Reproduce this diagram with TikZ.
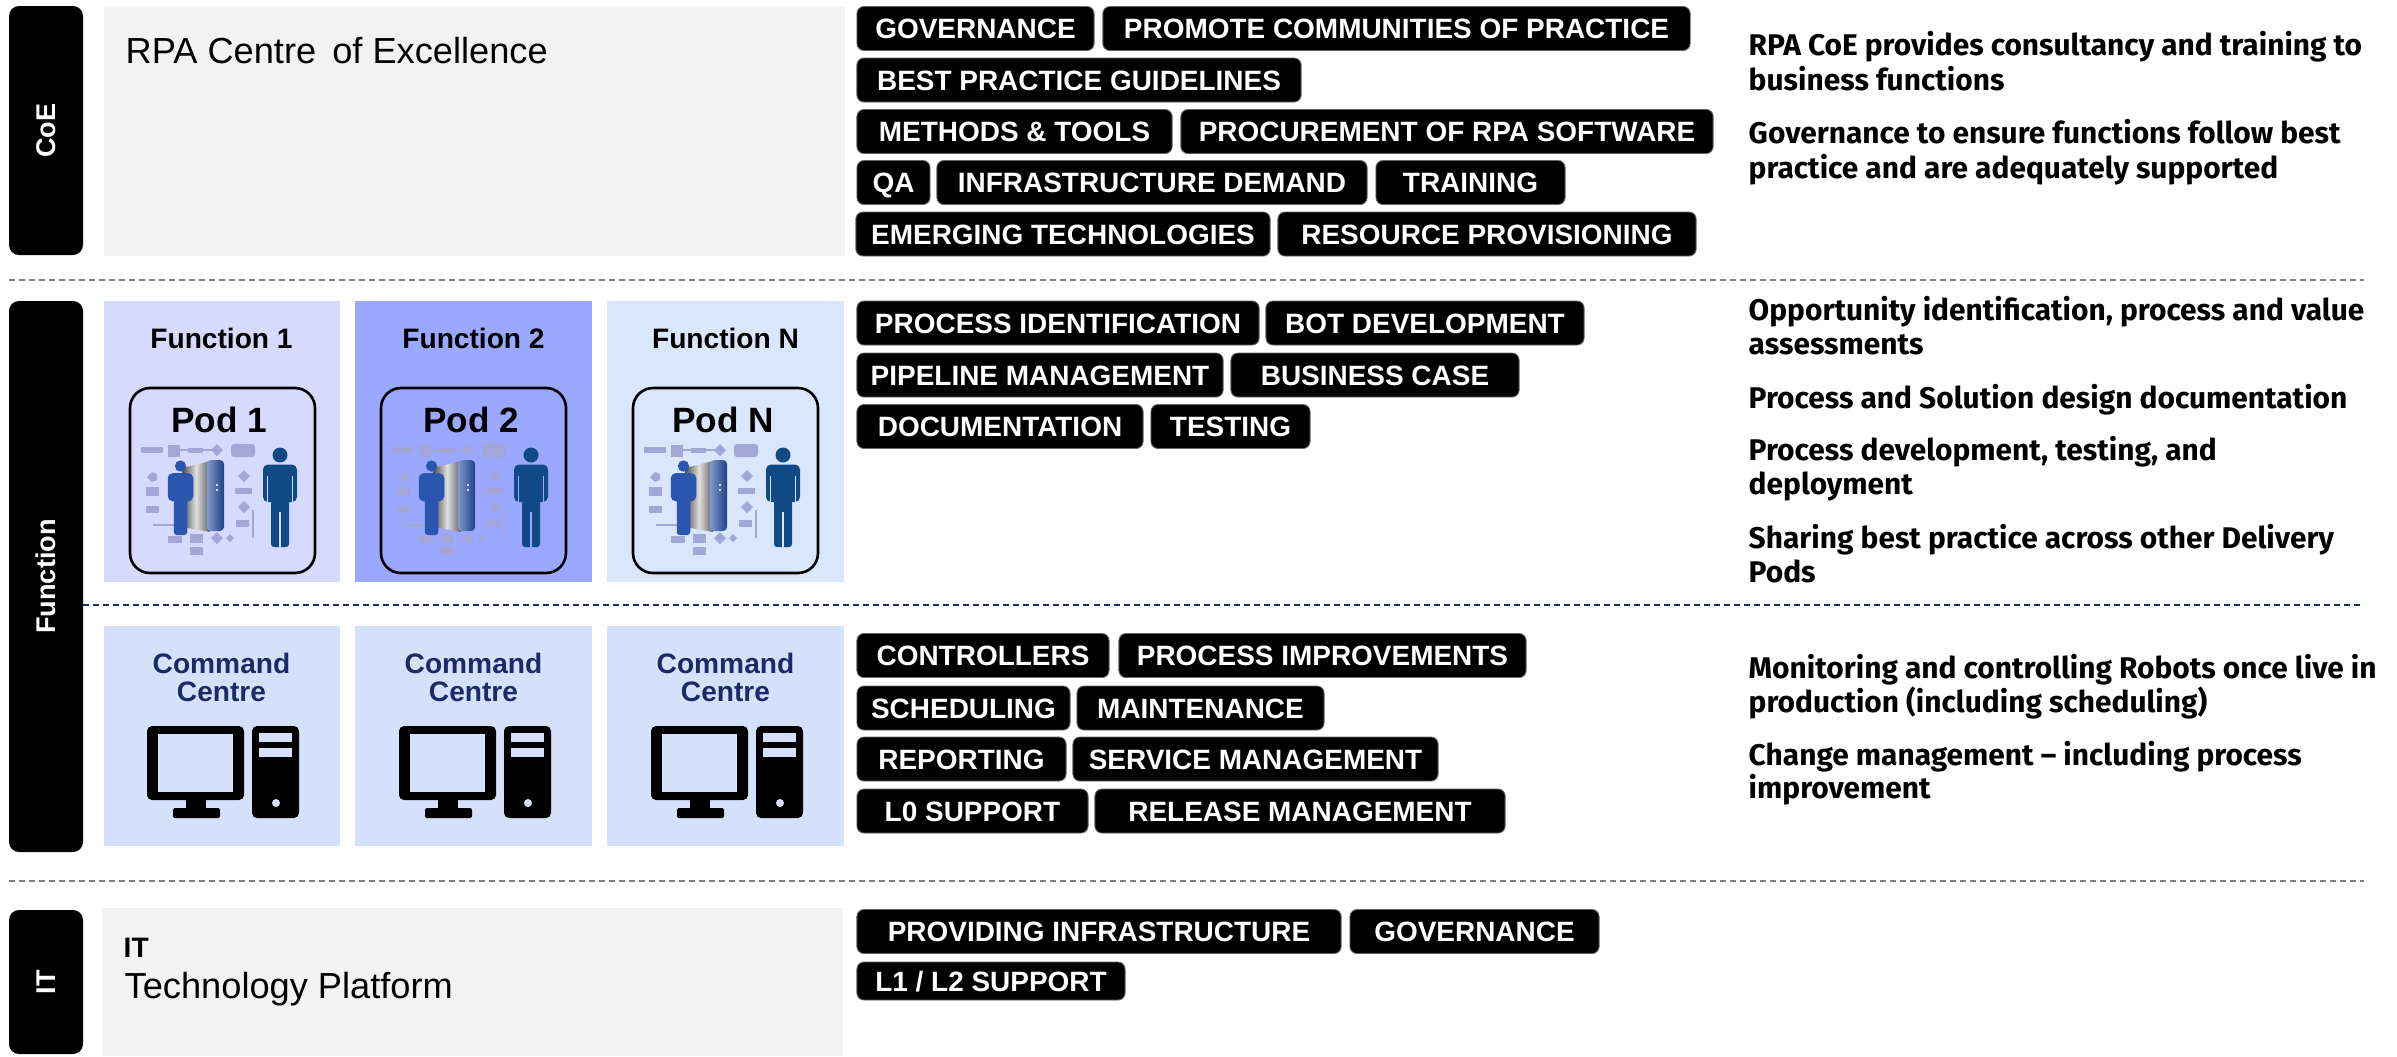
\documentclass[tikz,border=0pt]{standalone}
\usepackage{fontspec}
\setmainfont{Liberation Sans}
\newfontfamily\descfont{Fira Sans}
\definecolor{panelgrey}{HTML}{F2F2F2}
\definecolor{funA}{HTML}{D6DAFF}
\definecolor{funB}{HTML}{9AA8FF}
\definecolor{funC}{HTML}{DAE6FC}
\definecolor{cmdbg}{HTML}{D5E1FA}
\definecolor{cmdtext}{HTML}{1A2B66}
\definecolor{sepgrey}{HTML}{7F7F7F}
\definecolor{sepnavy}{HTML}{1F2F5F}
\definecolor{flow}{HTML}{A2A7D8}
\definecolor{bigman}{HTML}{104A86}
\definecolor{smallman}{HTML}{2B56B0}

\tikzset{
  sidebar/.style={fill=black, rounded corners=0.1cm},
  sidelabel/.style={text=white, rotate=90, inner sep=0pt, font=\fontsize{7.7}{9}\selectfont\bfseries},
  tag/.style={fill=black, draw=black!60, line width=0.25pt, rounded corners=0.07cm,
    text=white, font=\fontsize{7.95}{9}\selectfont\bfseries, minimum height=0.44cm, inner sep=0pt,
    text height=5.7pt, text depth=0pt},
  desc/.style={anchor=base west, inner sep=0pt, font=\descfont\fontsize{8.5}{10}\selectfont\bfseries},
  title/.style={anchor=base west, inner sep=0pt, font=\fontsize{10.3}{12}\selectfont},
  funlabel/.style={anchor=base, inner sep=0pt, font=\fontsize{8}{9}\selectfont\bfseries},
  podlabel/.style={anchor=base, inner sep=0pt, font=\fontsize{10}{12}\selectfont\bfseries},
  cmdlabel/.style={anchor=base, inner sep=0pt, text=cmdtext, font=\fontsize{8}{9}\selectfont\bfseries},
  podbox/.style={draw=black, line width=0.75pt, rounded corners=0.2cm},
  sepline/.style={sepgrey, line width=0.4pt, dash pattern=on 0.06cm off 0.04cm},
  sepmid/.style={sepnavy, line width=0.45pt, dash pattern=on 0.06cm off 0.04cm},
  % standing figure, origin at the centre of the head; #1 body colour, #2 gap colour
  pics/person/.style 2 args={code={
    \fill[#1] (0,0) circle (7.5);
    \fill[#1, rounded corners=0.05cm] (-17,9.5) rectangle (17,47);
    \fill[#1, rounded corners=0.03cm] (-9,44) rectangle (9,92);
    \fill[#2] (-12.9,21) rectangle (-11.8,47.3);
    \fill[#2] (11.8,21) rectangle (12.9,47.3);
    \fill[#2] (-0.6,57) rectangle (0.6,92.3);
  }},
  % delivery pod artwork, origin at the top left of the pod frame; #1 background
  pics/podicon/.style={code={
    \fill[flow] (11,59) rectangle (33,65);
    \fill[flow] (38,57) rectangle (50,69);
    \draw[flow, line width=0.6pt] (50,62) -- (82,62);
    \fill[flow] (58,59.5) rectangle (73,64.5);
    \fill[flow] (87,56) -- (93,62) -- (87,68) -- (81,62) -- cycle;
    \fill[flow, rounded corners=0.03cm] (101,56) rectangle (125,69);
    \fill[flow] (17,89) -- (22,84) -- (27,86) -- (27,92) -- (22,94) -- cycle;
    \fill[flow] (16,99) rectangle (29,108);
    \fill[flow] (16,118) rectangle (29,125);
    \draw[flow, line width=0.6pt] (23,137) -- (48,137);
    \fill[flow] (38,148) rectangle (52,155);
    \fill[flow] (60,146) rectangle (73,155);
    \fill[flow] (60,159) rectangle (73,167);
    \fill[flow] (87,144) -- (93,150) -- (87,156) -- (81,150) -- cycle;
    \fill[flow] (100,146) -- (104,150) -- (100,154) -- (96,150) -- cycle;
    \fill[flow] (114,82) -- (120,88) -- (114,94) -- (108,88) -- cycle;
    \fill[flow] (105,100) rectangle (122,106);
    \fill[flow] (114,113) -- (120,119) -- (114,125) -- (108,119) -- cycle;
    \fill[flow] (106,132) rectangle (119,139);
    \draw[flow, line width=0.6pt] (123,122) -- (123,150);
    \shade[left color=gray!60!black, right color=gray!75!black, middle color=gray!25]
      (52,80) -- (80,73) -- (80,144) -- (52,139) -- cycle;
    \shade[left color=smallman!60!white, right color=smallman!75!black, rounded corners=0.04cm]
      (77,72) rectangle (94,143);
    \fill[white!80!smallman] (86,96) rectangle (88,98);
    \fill[white!80!smallman] (86,101) rectangle (88,103);
    \pic[scale=0.75] at (50.5,78) {person={smallman}{smallman}};
    \pic at (150,67) {person={bigman}{#1}};
  }},
  % desktop computer, origin at the top centre of the icon; #1 background
  pics/pcicon/.style={code={
    \fill[black, rounded corners=0.05cm] (-76,0) rectangle (21,74);
    \fill[#1] (-65,8) rectangle (10,66);
    \fill[black] (-37,73) rectangle (-17,83);
    \fill[black, rounded corners=0.015cm] (-50,82) rectangle (-3,92);
    \fill[black, rounded corners=0.05cm] (29,0) rectangle (76,92);
    \fill[#1] (36,7) rectangle (69,16);
    \fill[#1] (36,22) rectangle (69,31);
    \fill[#1] (53,77) circle (4);
  }},
}

\begin{document}
\begin{tikzpicture}[x=0.01cm, y=-0.01cm]
\useasboundingbox[fill=white] (0,0) rectangle (2397,1056);

% section separators
\draw[sepline] (9,280) -- (2364,280);
\draw[sepmid] (83,605) -- (2364,605);
\draw[sepline] (9,881) -- (2364,881);

% side bars
\fill[sidebar] (9,6) rectangle (83,255);
\fill[sidebar] (9,301) rectangle (83,852);
\fill[sidebar] (9,910) rectangle (83,1054);
\node[sidelabel] (lcoe) at (46,130.5) {CoE};
\node[sidelabel] (lfun) at (46,576.5) {Function};
\node[sidelabel] (lit) at (46,982) {IT};

% grey panels
\fill[panelgrey] (104,7) rectangle (845,256);
\fill[panelgrey] (102,908) rectangle (843,1056);
\node[title] (coetitle) at (125,63) {RPA Centre\, of Excellence};
\node[anchor=base west, inner sep=0pt, font=\fontsize{8}{9}\selectfont\bfseries] (ittitle) at (123,957) {IT};
\node[title] (ittitle2) at (124,998) {Technology Platform};

% function columns
\fill[funA] (104,301) rectangle (340,582);
\fill[funB] (355,301) rectangle (592,582);
\fill[funC] (607,301) rectangle (844,582);
\node[funlabel] (f1) at (221.5,348) {Function 1};
\node[funlabel] (f2) at (473.5,348) {Function 2};
\node[funlabel] (f3) at (725.5,348) {Function N};

\pic at (130,388) {podicon=funA};
\pic at (381,388) {podicon=funB};
\pic at (633,388) {podicon=funC};
\draw[podbox] (130,388) rectangle (315,573);
\draw[podbox] (381,388) rectangle (566,573);
\draw[podbox] (633,388) rectangle (818,573);
\node[podlabel] (p1) at (219,432) {Pod 1};
\node[podlabel] (p2) at (471,432) {Pod 2};
\node[podlabel] (p3) at (723,432) {Pod N};

% command centres
\fill[cmdbg] (104,626) rectangle (340,846);
\fill[cmdbg] (355,626) rectangle (592,846);
\fill[cmdbg] (607,626) rectangle (844,846);
\foreach \cx/\nm in {221.5/c1, 473.5/c2, 725.5/c3} {
  \node[cmdlabel] (\nm a) at (\cx,673) {Command};
  \node[cmdlabel] (\nm b) at (\cx,701) {Centre};
  \pic at (\cx+1.5,726) {pcicon=cmdbg};
}

% CoE activities
\node[tag, minimum width=2.37cm] (t01) at (975.5,28.5) {GOVERNANCE};
\node[tag, minimum width=5.87cm] (t02) at (1396.5,28.5) {PROMOTE COMMUNITIES OF PRACTICE};
\node[tag, minimum width=4.44cm] (t03) at (1079,80) {BEST PRACTICE GUIDELINES};
\node[tag, minimum width=3.15cm] (t04) at (1014.5,131.5) {METHODS \& TOOLS};
\node[tag, minimum width=5.32cm] (t05) at (1447,131.5) {PROCUREMENT OF RPA SOFTWARE};
\node[tag, minimum width=0.73cm] (t06) at (893.5,182.5) {QA};
\node[tag, minimum width=4.30cm] (t07) at (1152,182.5) {INFRASTRUCTURE DEMAND};
\node[tag, minimum width=1.89cm] (t08) at (1470.5,182.5) {TRAINING};
\node[tag, minimum width=4.14cm] (t09) at (1063,234) {EMERGING TECHNOLOGIES};
\node[tag, minimum width=4.18cm] (t10) at (1487,234) {RESOURCE PROVISIONING};

% pod activities
\node[tag, minimum width=4.02cm] (t11) at (1058,323) {PROCESS IDENTIFICATION};
\node[tag, minimum width=3.18cm] (t12) at (1425,323) {BOT DEVELOPMENT};
\node[tag, minimum width=3.66cm] (t13) at (1040,375) {PIPELINE MANAGEMENT};
\node[tag, minimum width=2.88cm] (t14) at (1375,375) {BUSINESS CASE};
\node[tag, minimum width=2.86cm] (t15) at (1000,426.5) {DOCUMENTATION};
\node[tag, minimum width=1.59cm] (t16) at (1230.5,426.5) {TESTING};

% command centre activities
\node[tag, minimum width=2.52cm] (t17) at (983,655.5) {CONTROLLERS};
\node[tag, minimum width=4.07cm] (t18) at (1322.5,655.5) {PROCESS IMPROVEMENTS};
\node[tag, minimum width=2.13cm] (t19) at (963.5,708) {SCHEDULING};
\node[tag, minimum width=2.47cm] (t20) at (1200.5,708) {MAINTENANCE};
\node[tag, minimum width=2.09cm] (t21) at (961.5,759) {REPORTING};
\node[tag, minimum width=3.65cm] (t22) at (1255.5,759) {SERVICE MANAGEMENT};
\node[tag, minimum width=2.31cm] (t23) at (972.5,811) {L0 SUPPORT};
\node[tag, minimum width=4.10cm] (t24) at (1300,811) {RELEASE MANAGEMENT};

% IT activities
\node[tag, minimum width=4.84cm] (t25) at (1099,931.5) {PROVIDING INFRASTRUCTURE};
\node[tag, minimum width=2.49cm] (t26) at (1474.5,931.5) {GOVERNANCE};
\node[tag, minimum width=2.68cm, minimum height=0.38cm] (t27) at (991,981) {L1 / L2 SUPPORT};

% descriptions
\node[desc] (d1a) at (1748,55) {RPA CoE provides consultancy and training to};
\node[desc] (d1b) at (1748,90) {business functions};
\node[desc] (d2a) at (1748,143) {Governance to ensure functions follow best};
\node[desc] (d2b) at (1748,178) {practice and are adequately supported};
\node[desc] (d3a) at (1748,320) {Opportunity identification, process and value};
\node[desc] (d3b) at (1748,354) {assessments};
\node[desc] (d4a) at (1748,408) {Process and Solution design documentation};
\node[desc] (d5a) at (1748,460) {Process development, testing, and};
\node[desc] (d5b) at (1748,494) {deployment};
\node[desc] (d6a) at (1748,548) {Sharing best practice across other Delivery};
\node[desc] (d6b) at (1748,582) {Pods};
\node[desc] (d7a) at (1748,678) {Monitoring and controlling Robots once live in};
\node[desc] (d7b) at (1748,712) {production (including scheduling)};
\node[desc] (d8a) at (1748,765) {Change management – including process};
\node[desc] (d8b) at (1748,798) {improvement};
\end{tikzpicture}
\end{document}
